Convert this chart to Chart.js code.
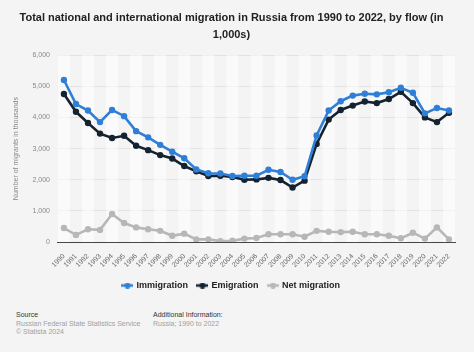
<!DOCTYPE html>
<html>
<head>
<meta charset="utf-8">
<script src="https://cdn.jsdelivr.net/npm/chart.js@4"></script>
<style>
  html, body { margin: 0; padding: 0; background: #f4f4f4; }
  body { width: 474px; height: 352px; position: relative; overflow: hidden; font-family: "Liberation Sans", Arial, sans-serif; }
  #wrap { position: absolute; left: 0; top: 0; width: 474px; height: 300px; }
  .foot { position: absolute; font-size: 7px; line-height: 8.5px; color: #a0a0a0; }
  .foot b { font-weight: normal; color: #333; }
</style>
</head>
<body>
<div id="wrap"><canvas id="myChart" width="474" height="300"></canvas></div>
<div class="foot" style="left:16px; top:311px;"><b>Source</b><br>Russian Federal State Statistics Service<br>© Statista 2024</div>
<div class="foot" style="left:153px; top:311px;"><b>Additional Information:</b><br>Russia; 1990 to 2022</div>
<script>
var years = ['1990','1991','1992','1993','1994','1995','1996','1997','1998','1999','2000','2001','2002','2003','2004','2005','2006','2007','2008','2009','2010','2011','2012','2013','2014','2015','2016','2017','2018','2019','2020','2021','2022'];
var immigration = [5200,4430,4220,3850,4240,4040,3560,3360,3120,2900,2690,2330,2210,2200,2120,2130,2130,2320,2250,2000,2110,3420,4220,4520,4700,4760,4740,4810,4950,4790,4130,4300,4220];
var emigration = [4750,4180,3820,3480,3340,3410,3090,2950,2790,2680,2440,2270,2120,2130,2090,2000,2010,2060,1990,1750,1970,3150,3930,4240,4380,4510,4460,4590,4820,4460,4000,3850,4150];
var netMigration = [450,230,410,390,900,610,470,410,360,200,270,85,85,30,40,110,130,250,250,250,170,360,330,320,330,250,250,200,120,300,110,470,85];
var yTicks = [0,1000,2000,3000,4000,5000,6000];

var blue = '#2f7fd6';
var navy = '#14232f';
var grey = '#b7b7b7';

function legendIcon(color) {
    var c = document.createElement('canvas');
    c.width = 12; c.height = 6;
    var g = c.getContext('2d');
    g.strokeStyle = color; g.lineWidth = 2.5;
    g.beginPath(); g.moveTo(0, 3); g.lineTo(12, 3); g.stroke();
    g.fillStyle = color;
    g.beginPath(); g.arc(6, 3, 3, 0, Math.PI * 2); g.fill();
    return c;
}

var bands = {
    id: 'bands',
    beforeDatasetsDraw: function(chart) {
        var x = chart.scales.x, a = chart.chartArea, ctx = chart.ctx;
        var step = x.getPixelForValue(1) - x.getPixelForValue(0);
        ctx.save();
        ctx.fillStyle = 'rgba(255,255,255,0.55)';
        for (var i = 0; i < years.length; i += 2) {
            var p = x.getPixelForValue(i);
            ctx.fillRect(p - step / 2, a.top, step, a.bottom - a.top);
        }
        ctx.restore();
    }
};

function ds(label, data, color, w) {
    return {
        label: label, data: data, borderColor: color, backgroundColor: color,
        borderWidth: w, pointRadius: 1.9, pointHoverRadius: 3, tension: 0,
        pointStyle: 'circle'
    };
}

new Chart(document.getElementById('myChart'), {
    type: 'line',
    data: {
        labels: years,
        datasets: [
            ds('Immigration', immigration, blue, 2.6),
            ds('Emigration', emigration, navy, 2.6),
            ds('Net migration', netMigration, grey, 2.6)
        ]
    },
    plugins: [bands],
    options: {
        responsive: false,
        animation: false,
        devicePixelRatio: 1,
        layout: { padding: { left: 8, right: 19, top: 0, bottom: 0 } },
        plugins: {
            title: {
                display: true,
                text: ['Total national and international migration in Russia from 1990 to 2022, by flow (in', '1,000s)'],
                color: '#222',
                font: { family: 'Liberation Sans', size: 11, weight: 'bold', lineHeight: 1.55 },
                padding: { top: 9, bottom: 12 }
            },
            legend: {
                position: 'bottom',
                labels: {
                    color: '#222',
                    font: { family: 'Liberation Sans', size: 9, weight: 'bold' },
                    usePointStyle: true,
                    boxWidth: 12, boxHeight: 6,
                    padding: 10,
                    generateLabels: function(chart) {
                        return chart.data.datasets.map(function(d, i) {
                            return {
                                text: d.label, fillStyle: d.borderColor, strokeStyle: d.borderColor,
                                fontColor: '#222', lineWidth: 0, datasetIndex: i,
                                pointStyle: legendIcon(d.borderColor)
                            };
                        });
                    }
                }
            },
            tooltip: { enabled: false }
        },
        scales: {
            x: {
                offset: true,
                grid: { display: false },
                border: { color: '#444', width: 1 },
                ticks: {
                    color: '#666', autoSkip: false, maxRotation: 45, minRotation: 45,
                    font: { family: 'Liberation Sans', size: 7 }, padding: 2
                }
            },
            y: {
                min: 0, max: 6000,
                afterBuildTicks: function(scale) {
                    scale.ticks = yTicks.map(function(v) { return { value: v }; });
                },
                grid: { color: '#e2e2e2', drawTicks: false },
                border: { display: false },
                ticks: {
                    color: '#888', padding: 8,
                    font: { family: 'Liberation Sans', size: 7 },
                    callback: function(v) { return v.toLocaleString('en-US'); }
                },
                title: {
                    display: true, text: 'Number of migrants in thousands', color: '#888',
                    font: { family: 'Liberation Sans', size: 7 }, padding: { bottom: 4 }
                }
            }
        }
    }
});
</script>
</body>
</html>
